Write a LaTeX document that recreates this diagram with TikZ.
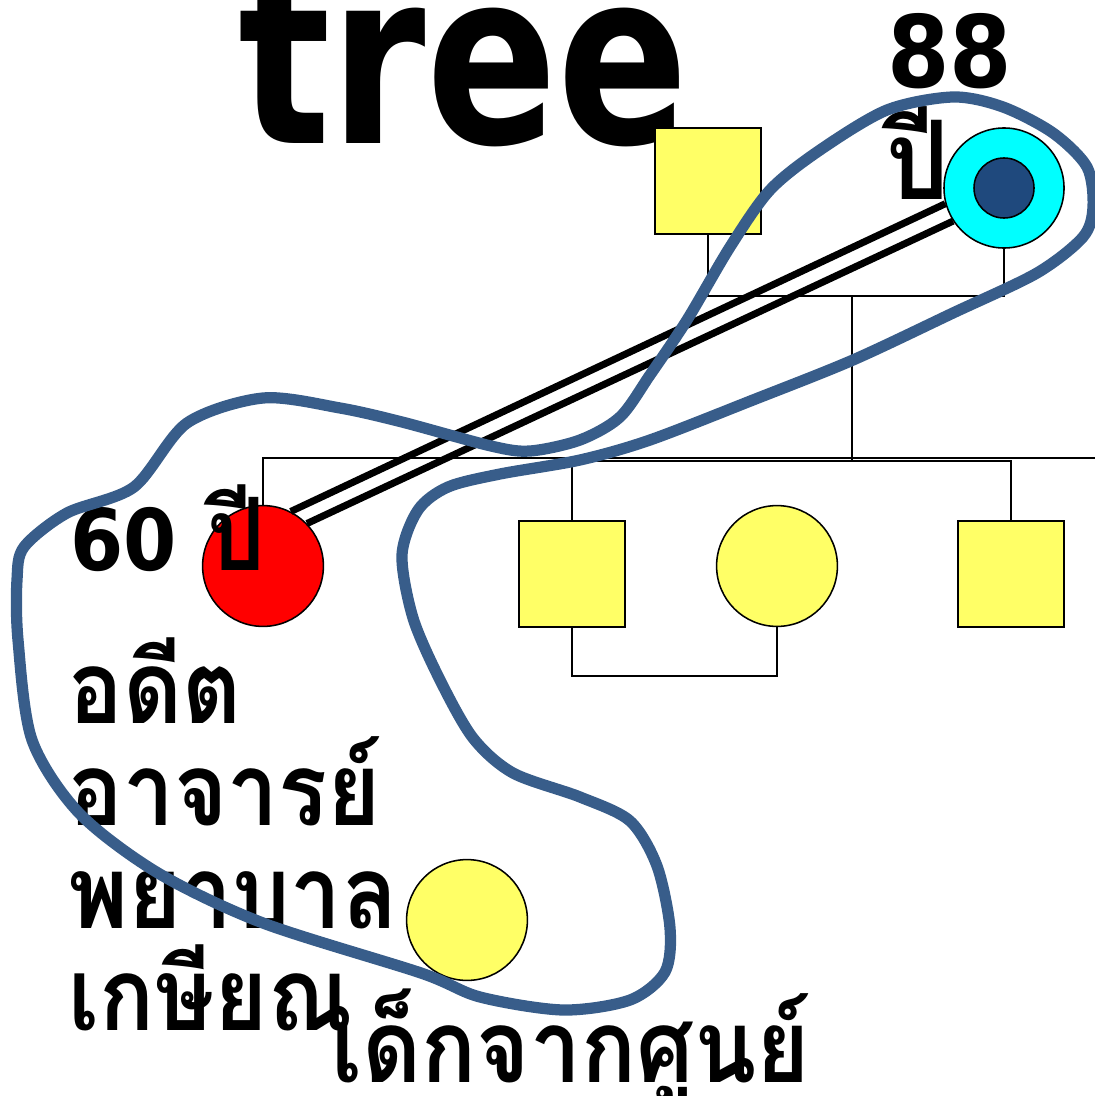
\documentclass[tikz,border=0pt]{standalone}
\usepackage{fontspec}
\setmainfont{DejaVu Sans}
\newfontfamily\latinfont[FakeStretch=0.8]{DejaVu Sans}
\newfontfamily\digitfont[FakeStretch=0.9]{DejaVu Sans}
\newfontfamily\thaifont[Script=Thai, FakeStretch=0.9]{Loma}
\definecolor{symbolyellow}{HTML}{FFFF66}
\definecolor{hullblue}{HTML}{385D8A}
\definecolor{innerblue}{HTML}{1F497D}
\definecolor{ringcyan}{HTML}{00FFFF}

\begin{document}
\begin{tikzpicture}[x=0.025cm, y=-0.025cm,
    person/.style={draw=black, line width=1.1pt, fill=symbolyellow, inner sep=0pt},
    male/.style={person, rectangle, minimum size=2.65cm},
    female/.style={person, circle, minimum size=3.02cm},
    tie/.style={draw=black, line width=1.1pt},
    closeline/.style={draw=black, line width=5pt},
    hull/.style={draw=hullblue, line width=8pt},
    thaitext/.style={anchor=base west, inner sep=0pt, font=\thaifont\bfseries\fontsize{72}{80}\selectfont},
  ]
  \useasboundingbox (0,0) rectangle (1095,1096);

  \node [anchor=base west, inner sep=0pt, font=\latinfont\bfseries\fontsize{172}{180}\selectfont] (title) at (238,144) {tree};

  \node [male] (gf) at (708,181) {};
  \node [female, fill=ringcyan, minimum size=3cm] (gm) at (1004,188) {};
  \node [circle, draw=black, line width=1.1pt, fill=innerblue, minimum size=1.5cm] (gmcore) at (gm.center) {};

  \node [female, fill=red] (ego) at (263,566) {};
  \node [male] (son1) at (572,574) {};
  \node [female] (dau) at (777,566) {};
  \node [male] (son2) at (1011,574) {};
  \node [female] (kid) at (467,920) {};

  \coordinate (pbar) at (852,296);
  \coordinate (sibbar) at (852,458);
  \coordinate (kidbar) at (852,461);
  \coordinate (rightend) at (1095,458);

  \draw [tie] (gf.south) -- (gf.south |- pbar) -- (gm.south |- pbar) -- (gm.south);
  \draw [tie] (pbar) -- (kidbar);
  \draw [tie] (ego.north) -- (ego.north |- sibbar) -- (rightend);
  \draw [tie] (son1.north) -- (son1.north |- kidbar) -- (son2.north |- kidbar) -- (son2.north);
  \draw [tie] (son1.south) -- ++(0,48) -| (dau.south);

  \draw [closeline] (ego.63) -- (gm.195);
  \draw [closeline] (ego.44) -- (gm.213);

  \node [anchor=base west, inner sep=0pt, font=\digitfont\bfseries\fontsize{71}{80}\selectfont] (gmage) at (887,88) {88};
  \node [thaitext, font=\thaifont\bfseries\fontsize{78}{80}\selectfont] (gmyear) at (886,200) {ปี};

  \node [thaitext] (egoage) at (70,570) {{\digitfont\fontsize{60.5}{72}\selectfont 60} ปี};
  \node [thaitext] (past) at (68,723) {อดีต};
  \node [thaitext] (teacher) at (68,825) {อาจารย์};
  \node [thaitext] (nurse) at (68,928) {พยาบาล};
  \node [thaitext] (retired) at (68,1030) {เกษียณ};
  \node [thaitext] (kidtext) at (331,1082) {เด็กจากศูนย์};

  \draw [hull] plot [smooth cycle] coordinates {
    (263,398) (340,408) (402,422) (491,446) (530,451) (580,440) (620,417)
    (650,375) (687,320) (730,247) (770,190) (820,150) (887,110) (953,97)
    (1003,107) (1053,133) (1087,167) (1093,207) (1083,237) (1037,273)
    (953,313) (853,360) (753,400) (650,440) (580,460) (500,474) (448,487)
    (418,510) (402,555) (413,618) (440,680) (473,738) (513,773) (580,797)
    (630,821) (657,866) (670,928) (665,972) (630,1000) (563,1010) (480,997)
    (421,973) (263,923) (158,873) (79,813) (32,740) (18,640) (17,580)
    (24,547) (67,513) (134,487) (187,423)};

\end{tikzpicture}
\end{document}
